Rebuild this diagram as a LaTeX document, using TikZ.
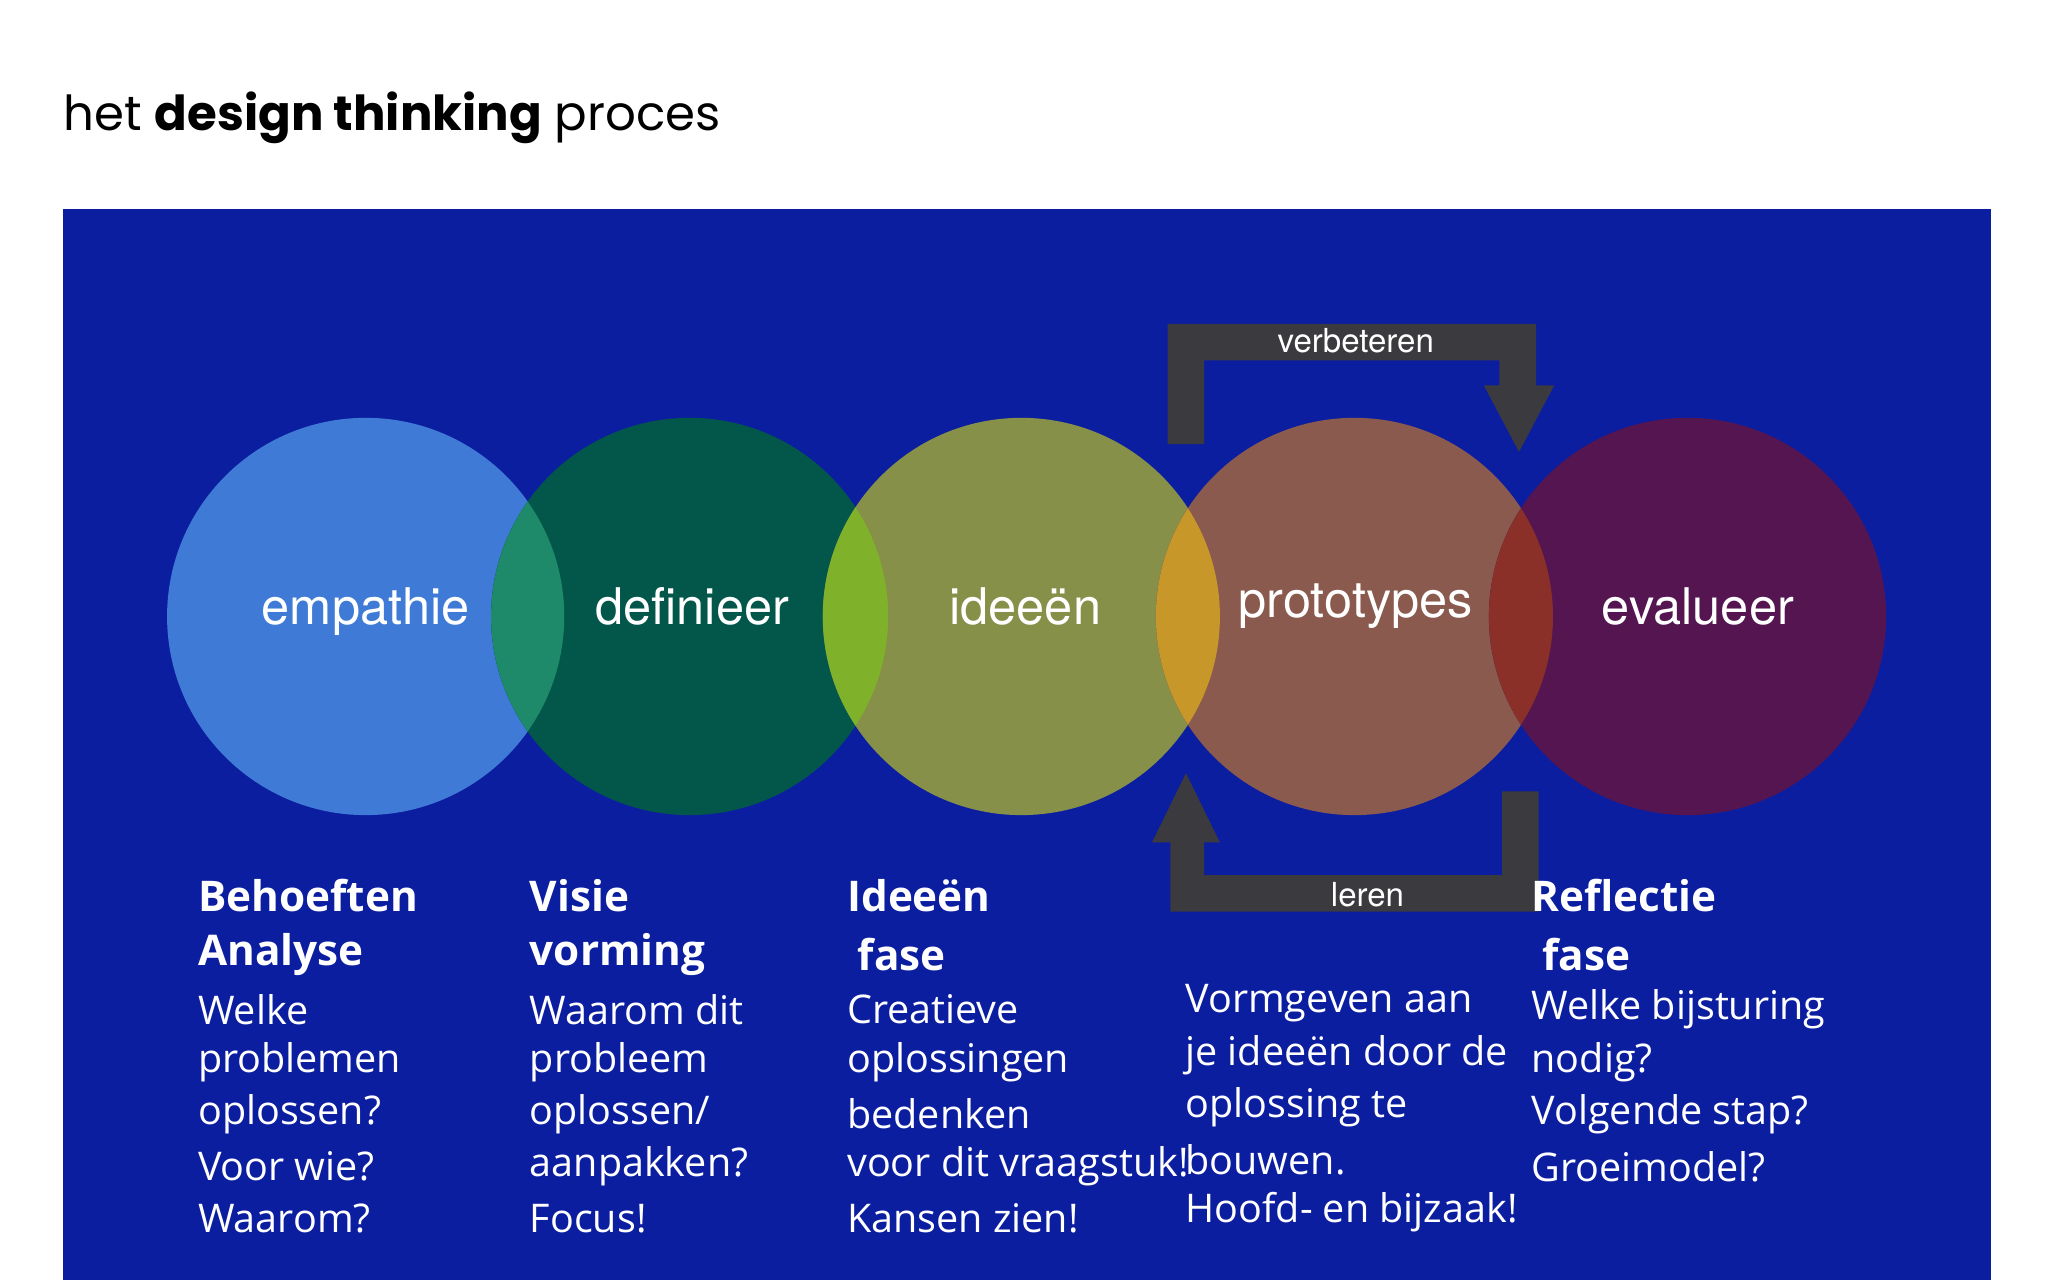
\documentclass[tikz,border=0pt]{standalone}
\usepackage{fontspec}
\setmainfont{Open Sans}
\newfontfamily\circfont{TeX Gyre Heros}
\newfontfamily\titlefont{Poppins}
\definecolor{bg}{RGB}{12,30,160}
\definecolor{cA}{RGB}{63,123,214}
\definecolor{cB}{RGB}{2,87,74}
\definecolor{cC}{RGB}{134,144,72}
\definecolor{cD}{RGB}{138,90,78}
\definecolor{cE}{RGB}{84,21,81}
\definecolor{oAB}{RGB}{31,138,106}
\definecolor{oBC}{RGB}{127,178,42}
\definecolor{oCD}{RGB}{200,151,42}
\definecolor{oDE}{RGB}{139,48,40}
\definecolor{arr}{RGB}{58,58,63}
\tikzset{
 phase/.style={circle,minimum size=3.04cm,inner sep=0pt,text=white,font=\circfont\fontsize{11}{13}\selectfont},
 txt/.style={anchor=west,inner sep=0pt,text=white,font=\fontsize{8.6}{10}\selectfont},
 head/.style={anchor=west,inner sep=0pt,text=white,font=\bfseries\fontsize{9.2}{11}\selectfont},
 arrlbl/.style={text=white,font=\circfont\fontsize{7.2}{9}\selectfont,inner sep=0pt}
}
\begin{document}
\begin{tikzpicture}[x=0.01cm,y=-0.01cm]
\useasboundingbox (0,0) rectangle (1568,980);
\fill[white] (0,0) rectangle (1568,980);
\node[anchor=west,inner sep=0pt,font=\titlefont\fontsize{10.5}{12}\selectfont] (title) at (48,90) {het \textbf{design thinking} proces};
\fill[bg] (48,160) rectangle (1524,980);
% circles
\node[phase,fill=cA] (a) at (280,472) {};
\node[phase,fill=cB] (b) at (528,472) {};
\node[phase,fill=cC] (c) at (782,472) {};
\node[phase,fill=cD] (d) at (1037,472) {};
\node[phase,fill=cE] (e) at (1292,472) {};
\begin{scope}\clip (280,472) circle (152);\fill[oAB] (528,472) circle (152);\end{scope}
\begin{scope}\clip (528,472) circle (152);\fill[oBC] (782,472) circle (152);\end{scope}
\begin{scope}\clip (782,472) circle (152);\fill[oCD] (1037,472) circle (152);\end{scope}
\begin{scope}\clip (1037,472) circle (152);\fill[oDE] (1292,472) circle (152);\end{scope}
\node[phase] (ta) at (280,468) {empathie};
\node[phase] (tb) at (530,464) {definieer};
\node[phase] (tc) at (785,464) {ideeën};
\node[phase] (td) at (1038,464) {prototypes};
\node[phase] (te) at (1300,464) {evalueer};
% top arrow
\fill[arr] (894,340) -- (894,248) -- (1176,248) -- (1176,295) -- (1190,295) -- (1163,346) -- (1136,295) -- (1148,295) -- (1148,276) -- (922,276) -- (922,340) -- cycle;
\node[arrlbl] (verb) at (1038,261) {verbeteren};
% bottom arrow
\fill[arr] (1150,606) -- (1178,606) -- (1178,698) -- (896,698) -- (896,645) -- (882,645) -- (908,592) -- (934,645) -- (922,645) -- (922,670) -- (1150,670) -- cycle;
\node[arrlbl] (leren) at (1047,685) {leren};
% column 1
\node[head] (h1a) at (151,686) {Behoeften};
\node[head] (h1b) at (151,731) {Analyse};
\node[txt] (t1a) at (151,773) {Welke};
\node[txt] (t1b) at (151,813) {problemen};
\node[txt] (t1c) at (151,853) {oplossen?};
\node[txt] (t1d) at (151,893) {Voor wie?};
\node[txt] (t1e) at (151,933) {Waarom?};
% column 2
\node[head] (h2a) at (405,686) {Visie};
\node[head] (h2b) at (405,731) {vorming};
\node[txt] (t2a) at (405,773) {Waarom dit};
\node[txt] (t2b) at (405,813) {probleem};
\node[txt] (t2c) at (405,853) {oplossen/};
\node[txt] (t2d) at (405,893) {aanpakken?};
\node[txt] (t2e) at (405,933) {Focus!};
% column 3
\node[head] (h3a) at (648,686) {Ideeën};
\node[head] (h3b) at (656,731) {fase};
\node[txt] (t3a) at (648,773) {Creatieve};
\node[txt] (t3b) at (648,813) {oplossingen};
\node[txt] (t3c) at (648,853) {bedenken};
\node[txt] (t3d) at (648,893) {voor dit vraagstuk!};
\node[txt] (t3e) at (648,933) {Kansen zien!};
% column 4
\node[txt] (t4a) at (907,768) {Vormgeven aan};
\node[txt] (t4b) at (907,808) {je ideeën door de};
\node[txt] (t4c) at (907,848) {oplossing te};
\node[txt] (t4d) at (907,888) {bouwen.};
\node[txt] (t4e) at (907,928) {Hoofd- en bijzaak!};
% column 5
\node[head] (h5a) at (1172,686) {Reflectie};
\node[head] (h5b) at (1180,731) {fase};
\node[txt] (t5a) at (1172,773) {Welke bijsturing};
\node[txt] (t5b) at (1172,813) {nodig?};
\node[txt] (t5c) at (1172,853) {Volgende stap?};
\node[txt] (t5d) at (1172,893) {Groeimodel?};
\end{tikzpicture}
\end{document}
